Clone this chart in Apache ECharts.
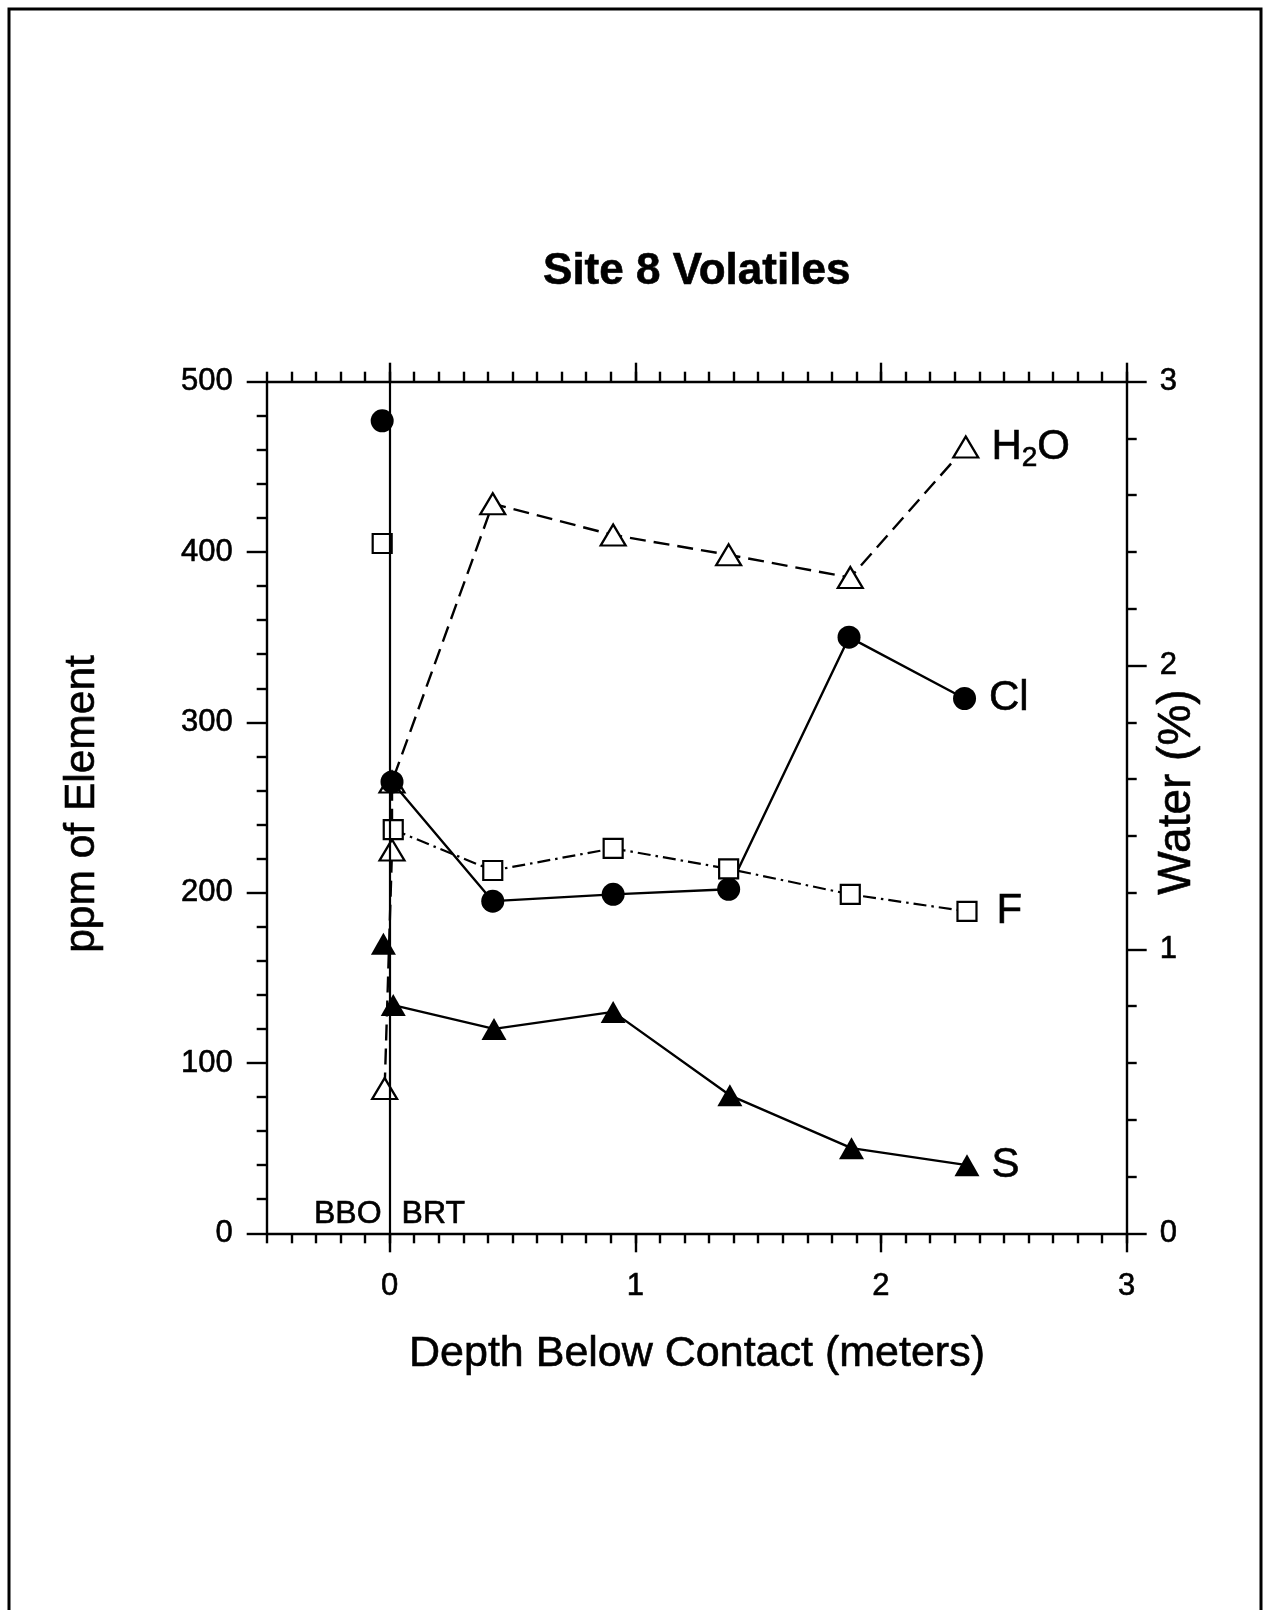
<!DOCTYPE html>
<html>
<head>
<meta charset="utf-8">
<script src="https://cdn.jsdelivr.net/npm/echarts@6/dist/echarts.min.js"></script>
<style>
  html, body { margin: 0; padding: 0; background: #fff; }
  #chart { width: 1265px; height: 1610px; }
</style>
</head>
<body>
<div id="chart"></div>
<script>
// Depth below the contact (m) and volatile contents for Site 8.
// The first Cl, F and S entry is the BBO sample above the contact; it is plotted on its own.
const clDepth  = [-0.03, 0.01, 0.42, 0.91, 1.38, 1.87, 2.34];
const clPpm    = [477, 265, 195, 199, 202, 350, 314];
const fDepth   = [-0.03, 0.015, 0.42, 0.91, 1.38, 1.875, 2.35];
const fPpm     = [405, 237, 213, 226, 214, 199, 189];
const sDepth   = [-0.025, 0.015, 0.425, 0.91, 1.385, 1.88, 2.35];
const sPpm     = [170, 134, 120, 130, 81, 50, 40];
const h2oDepth = [-0.02, 0.01, 0.01, 0.42, 0.91, 1.38, 1.875, 2.345];
const h2oPct   = [0.51, 1.35, 1.59, 2.57, 2.46, 2.39, 2.31, 2.77];
const depthTickValues = [0, 1, 2, 3];

const FONT = '"Liberation Sans", Arial, Helvetica, sans-serif';
const BLACK = '#000';
const HEAVY = { textBorderColor: BLACK, textBorderWidth: 0.6 };

const chart = echarts.init(document.getElementById('chart'), null, { renderer: 'canvas' });

function pairs(xs, ys) {
  return xs.map((x, i) => [x, ys[i]]);
}

// Put a name label to the right of the last point of a series
function withEndLabel(points, formatter, distance, rich) {
  const out = points.slice(0, -1);
  const last = points[points.length - 1];
  out.push({
    value: last,
    label: Object.assign({
      show: true, position: 'right', distance: distance,
      formatter: formatter, color: BLACK, fontFamily: FONT, fontSize: 42,
      rich: rich
    }, HEAVY)
  });
  return out;
}

function markerStyle(filled) {
  return filled
    ? { color: BLACK, borderColor: BLACK, borderWidth: 0, opacity: 1 }
    : { color: '#fff', borderColor: BLACK, borderWidth: 2.2, opacity: 1 };
}

const clPts = pairs(clDepth, clPpm);
const fPts = pairs(fDepth, fPpm);
const sPts = pairs(sDepth, sPpm);
const h2oPts = pairs(h2oDepth, h2oPct);

const axisLineStyle = { color: BLACK, width: 2.4 };
const tickLabel = Object.assign({ color: BLACK, fontFamily: FONT, fontSize: 31 }, HEAVY);

function depthAxis(position, major) {
  if (major) {
    return {
      type: 'value', position: position, min: -0.5, max: 3,
      axisLine: { show: true, onZero: false, lineStyle: axisLineStyle },
      axisTick: { show: true, customValues: depthTickValues, length: 19, lineStyle: axisLineStyle },
      axisLabel: Object.assign({
        show: position === 'bottom', customValues: depthTickValues, margin: 38
      }, tickLabel),
      splitLine: { show: false }
    };
  }
  return {
    type: 'value', position: position, min: -0.5, max: 3, interval: 0.1,
    axisLine: { show: false, onZero: false },
    axisTick: { show: true, length: 10, lineStyle: axisLineStyle },
    axisLabel: { show: false },
    splitLine: { show: false }
  };
}

function textEl(text, x, y, font, rotation) {
  return {
    type: 'text', x: x, y: y, rotation: rotation || 0, silent: true,
    style: {
      text: text, fill: BLACK, stroke: BLACK, lineWidth: 0.6,
      font: font,
      align: 'center', verticalAlign: 'middle',
      textAlign: 'center', textVerticalAlign: 'middle'
    }
  };
}

const option = {
  animation: false,
  backgroundColor: '#fff',
  grid: { left: 266.7, top: 381.7, width: 860, height: 851.6, containLabel: false },
  xAxis: [
    depthAxis('bottom', true),
    depthAxis('bottom', false),
    depthAxis('top', true),
    depthAxis('top', false)
  ],
  yAxis: [
    {
      type: 'value', position: 'left', min: 0, max: 500, interval: 100,
      axisLine: { show: true, onZero: false, lineStyle: axisLineStyle },
      axisTick: { show: true, length: 20, lineStyle: axisLineStyle },
      minorTick: { show: true, splitNumber: 5, length: 10, lineStyle: axisLineStyle },
      axisLabel: Object.assign({ margin: 34 }, tickLabel),
      splitLine: { show: false }, minorSplitLine: { show: false }
    },
    {
      type: 'value', position: 'right', min: 0, max: 3, interval: 1,
      axisLine: { show: true, onZero: false, lineStyle: axisLineStyle },
      axisTick: { show: true, length: 20, lineStyle: axisLineStyle },
      minorTick: { show: true, splitNumber: 5, length: 10, lineStyle: axisLineStyle },
      axisLabel: Object.assign({ margin: 33 }, tickLabel),
      splitLine: { show: false }, minorSplitLine: { show: false }
    }
  ],
  series: [
    {
      // contact line at zero depth
      type: 'line', data: [], xAxisIndex: 0, yAxisIndex: 0, silent: true,
      markLine: {
        silent: true, symbol: 'none', label: { show: false },
        lineStyle: { color: BLACK, width: 2.2, type: 'solid' },
        data: [{ xAxis: 0 }]
      }
    },
    {
      name: 'H2O', type: 'line', xAxisIndex: 0, yAxisIndex: 1,
      data: withEndLabel(h2oPts, '{n|H}{s|2}{n|O}', 12, {
        n: Object.assign({ fontSize: 42, fontFamily: FONT, color: BLACK, lineHeight: 44 }, HEAVY),
        s: Object.assign({ fontSize: 28, fontFamily: FONT, color: BLACK, lineHeight: 28, padding: [22, 0, 0, 0] }, HEAVY)
      }),
      symbol: 'triangle', symbolSize: [25, 21],
      itemStyle: markerStyle(false),
      lineStyle: { color: BLACK, width: 2.4, type: [16, 8] },
      emphasis: { disabled: true }, z: 3
    },
    {
      name: 'Cl', type: 'line', xAxisIndex: 0, yAxisIndex: 0,
      data: withEndLabel(clPts.slice(1), 'Cl', 13),
      symbol: 'circle', symbolSize: 23,
      itemStyle: markerStyle(true),
      lineStyle: { color: BLACK, width: 2.4, type: 'solid' },
      emphasis: { disabled: true }, z: 4
    },
    {
      name: 'F', type: 'line', xAxisIndex: 0, yAxisIndex: 0,
      data: withEndLabel(fPts.slice(1), 'F', 19),
      symbol: 'rect', symbolSize: 19,
      itemStyle: markerStyle(false),
      lineStyle: { color: BLACK, width: 2.2, type: [13, 5, 2.5, 5] },
      emphasis: { disabled: true }, z: 4
    },
    {
      name: 'S', type: 'line', xAxisIndex: 0, yAxisIndex: 0,
      data: withEndLabel(sPts.slice(1), 'S', 12),
      symbol: 'triangle', symbolSize: [25, 22],
      itemStyle: markerStyle(true),
      lineStyle: { color: BLACK, width: 2.4, type: 'solid' },
      emphasis: { disabled: true }, z: 4
    },
    // BBO samples above the contact, drawn without a connecting line
    {
      type: 'scatter', xAxisIndex: 0, yAxisIndex: 0, data: [clPts[0]],
      symbol: 'circle', symbolSize: 23, itemStyle: markerStyle(true), emphasis: { disabled: true }, z: 4
    },
    {
      type: 'scatter', xAxisIndex: 0, yAxisIndex: 0, data: [fPts[0]],
      symbol: 'rect', symbolSize: 19, itemStyle: markerStyle(false), emphasis: { disabled: true }, z: 4
    },
    {
      type: 'scatter', xAxisIndex: 0, yAxisIndex: 0, data: [sPts[0]],
      symbol: 'triangle', symbolSize: [25, 22], itemStyle: markerStyle(true), emphasis: { disabled: true }, z: 4
    },
    // unit names either side of the contact
    {
      type: 'scatter', xAxisIndex: 0, yAxisIndex: 0, silent: true, symbolSize: 0,
      itemStyle: { opacity: 1 },
      data: [[0, 11]],
      label: Object.assign({ show: true, position: 'left', distance: 8, formatter: 'BBO', color: BLACK, fontFamily: FONT, fontSize: 32 }, HEAVY)
    },
    {
      type: 'scatter', xAxisIndex: 0, yAxisIndex: 0, silent: true, symbolSize: 0,
      itemStyle: { opacity: 1 },
      data: [[0, 11]],
      label: Object.assign({ show: true, position: 'right', distance: 12, formatter: 'BRT', color: BLACK, fontFamily: FONT, fontSize: 32 }, HEAVY)
    }
  ],
  graphic: [
    {
      type: 'rect', silent: true,
      shape: { x: 9, y: 9, width: 1252, height: 1700 },
      style: { fill: 'none', stroke: BLACK, lineWidth: 3 }
    },
    textEl('Site 8 Volatiles', 696.7, 272, 'bold 44px ' + FONT),
    textEl('Depth Below Contact (meters)', 697, 1354, '43px ' + FONT),
    textEl('ppm of Element', 82, 804, '42.5px ' + FONT, Math.PI / 2),
    textEl('Water (%)', 1177, 792, '46px ' + FONT, Math.PI / 2)
  ]
};

chart.setOption(option);
</script>
</body>
</html>
